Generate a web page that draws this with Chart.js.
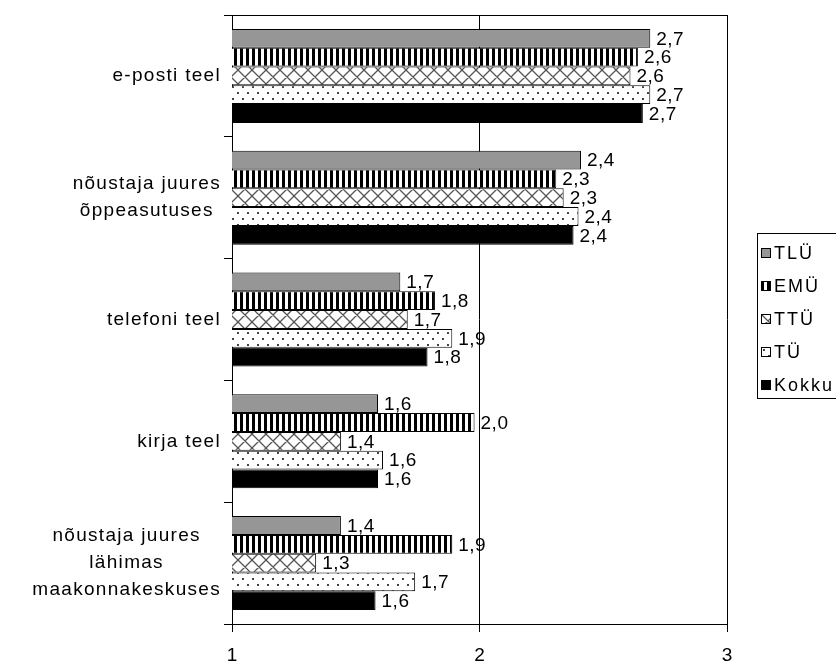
<!DOCTYPE html>
<html><head><meta charset="utf-8">
<script src="https://cdn.jsdelivr.net/npm/chart.js@4"></script>
<style>html,body{margin:0;padding:0;background:#fff;}</style>
</head><body>
<canvas id="c" width="836" height="661"></canvas>
<script>
const categories = [["e-posti teel"], ["nõustaja juures","õppeasutuses"], ["telefoni teel"], ["kirja teel"], ["nõustaja juures","lähimas","maakonnakeskuses"]];
const seriesNames = ["TLÜ","EMÜ","TTÜ","TÜ","Kokku"];
const tluValues = [2.69, 2.41, 1.68, 1.59, 1.44];
const emuValues = [2.64, 2.31, 1.82, 1.98, 1.89];
const ttuValues = [2.61, 2.34, 1.71, 1.44, 1.34];
const tuValues = [2.69, 2.40, 1.89, 1.61, 1.74];
const kokkuValues = [2.66, 2.38, 1.79, 1.59, 1.58];
const xTickValues = [1, 2, 3];

const FONT = '"Liberation Sans", Arial, sans-serif';

function makePattern(w, h, draw) {
  const cv = document.createElement('canvas');
  cv.width = w; cv.height = h;
  const g = cv.getContext('2d');
  draw(g, w, h);
  return document.getElementById('c').getContext('2d').createPattern(cv, 'repeat');
}
const stripePat = makePattern(6, 1, (g) => {
  g.fillStyle = '#fff'; g.fillRect(0, 0, 6, 1);
  g.fillStyle = '#000'; g.fillRect(0, 0, 3, 1);
});
const crossPat = makePattern(14, 14, (g, w, h) => {
  g.fillStyle = '#fff'; g.fillRect(0, 0, w, h);
  g.strokeStyle = '#555'; g.lineWidth = 1.3;
  g.beginPath();
  for (let o = -w; o <= w; o += w) {
    g.moveTo(o, 0); g.lineTo(o + w, h);
    g.moveTo(o + w, 0); g.lineTo(o, h);
  }
  g.stroke();
});
const dotPat = makePattern(10, 12, (g, w, h) => {
  g.fillStyle = '#fff'; g.fillRect(0, 0, w, h);
  g.fillStyle = '#444';
  g.fillRect(2, 2, 2, 2);
  g.fillRect(7, 8, 2, 2);
});

const fills = [ '#969696', stripePat, crossPat, dotPat, '#000000' ];
const seriesValues = [tluValues, emuValues, ttuValues, tuValues, kokkuValues];

const datasets = seriesNames.map((name, i) => ({
  label: name,
  data: seriesValues[i],
  backgroundColor: fills[i],
  borderColor: '#000',
  borderWidth: 1,
  borderSkipped: 'start',
  categoryPercentage: 0.772,
  barPercentage: 1.0
}));

const extras = {
  id: 'extras',
  afterDatasetsDraw(chart) {
    const ctx = chart.ctx;
    ctx.save();
    ctx.font = '19px ' + FONT;
    ctx.letterSpacing = '0.5px';
    ctx.fillStyle = '#000';
    ctx.textAlign = 'left';
    ctx.textBaseline = 'middle';
    chart.data.datasets.forEach((ds, i) => {
      const meta = chart.getDatasetMeta(i);
      meta.data.forEach((el, j) => {
        const v = ds.data[j];
        ctx.fillText(v.toFixed(1).replace('.', ','), el.x + 6, el.y + 1);
      });
    });
    ctx.restore();
  },
  afterDraw(chart) {
    const ctx = chart.ctx;
    const ca = chart.chartArea;
    ctx.save();
    // top border
    ctx.strokeStyle = '#000'; ctx.lineWidth = 1;
    ctx.beginPath();
    ctx.moveTo(ca.left, Math.round(ca.top) + 0.5);
    ctx.lineTo(ca.right + 0.5, Math.round(ca.top) + 0.5);
    ctx.stroke();
    // category labels
    const ys = chart.scales.y;
    ctx.font = '19px ' + FONT;
    ctx.letterSpacing = '1.3px';
    ctx.fillStyle = '#000';
    ctx.textAlign = 'center';
    ctx.textBaseline = 'middle';
    const lineH = 27;
    categories.forEach((lines, i) => {
      const y = ys.getPixelForValue(i);
      let w = 0;
      lines.forEach(l => { w = Math.max(w, ctx.measureText(l).width); });
      const cx = 221 - w / 2;
      lines.forEach((l, k) => {
        ctx.fillText(l, cx, y + (k - (lines.length - 1) / 2) * lineH);
      });
    });
    // legend
    const lx = 757.5, ly = 233.5;
    ctx.letterSpacing = '2px';
    ctx.strokeStyle = '#000'; ctx.lineWidth = 1;
    ctx.strokeRect(lx, ly, 120, 165);
    ctx.font = '18px ' + FONT;
    ctx.textAlign = 'left';
    const itemY = [253, 286, 319, 352, 385];
    chart.data.datasets.forEach((ds, i) => {
      const y = itemY[i];
      ctx.save();
      ctx.translate(761, y - 5);
      ctx.fillStyle = ds.backgroundColor;
      ctx.fillRect(0, 0, 10, 10);
      ctx.strokeStyle = '#000';
      ctx.strokeRect(0.5, 0.5, 9, 9);
      ctx.restore();
      ctx.fillStyle = '#000';
      ctx.fillText(ds.label, 774, y + 1);
    });
    ctx.restore();
  }
};

Chart.defaults.font.family = FONT;
Chart.defaults.color = '#000';

new Chart(document.getElementById('c'), {
  type: 'bar',
  data: { labels: categories, datasets },
  options: {
    indexAxis: 'y',
    responsive: false,
    animation: false,
    devicePixelRatio: 1,
    layout: { padding: { top: 15, right: 109, left: 0, bottom: 0 } },
    plugins: { legend: { display: false }, tooltip: { enabled: false } },
    scales: {
      x: {
        type: 'linear', min: 1, max: 3, position: 'bottom',
        afterBuildTicks: (s) => { s.ticks = xTickValues.map(v => ({ value: v })); },
        ticks: { font: { size: 19 }, color: '#000', padding: 12, maxRotation: 0, callback: (v) => String(v) },
        grid: { color: '#000', lineWidth: 1, drawTicks: true, tickLength: 8, tickColor: '#000' },
        border: { color: '#000', width: 1 },
        afterFit: (s) => { s.height = 37; }
      },
      y: {
        type: 'category', offset: true,
        grid: { offset: true, drawOnChartArea: false, drawTicks: true, tickLength: 8, color: '#000', tickColor: '#000' },
        border: { color: '#000', width: 1 },
        ticks: { display: false },
        afterFit: (s) => { s.width = 232; }
      }
    }
  },
  plugins: [extras]
});
</script>
</body></html>
